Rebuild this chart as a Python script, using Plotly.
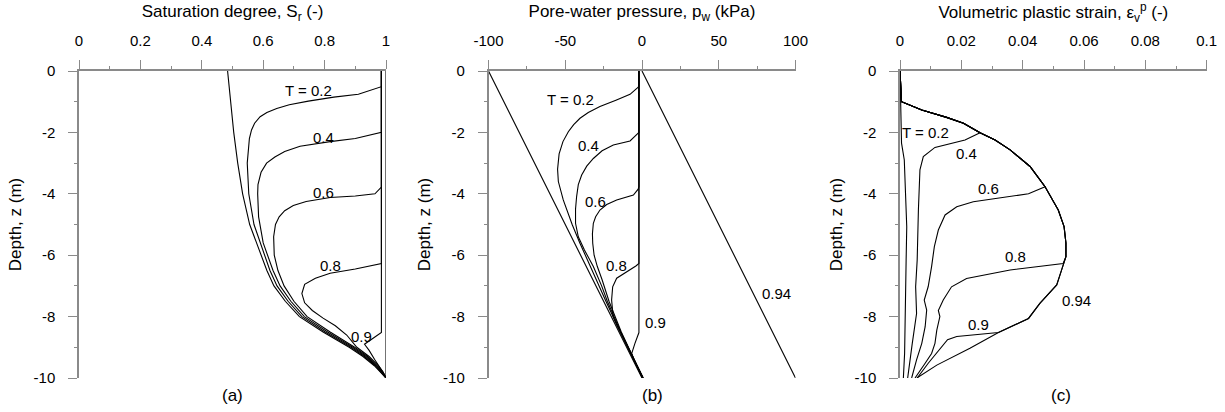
import plotly.graph_objects as go

# ---------------- tick labels ----------------
DEPTH_TICKS = [0, -2, -4, -6, -8, -10]
DEPTH_TICK_TEXT = ["0", "-2", "-4", "-6", "-8", "-10"]
SR_TICKS = [0, 0.2, 0.4, 0.6, 0.8, 1]
SR_TICK_TEXT = ["0", "0.2", "0.4", "0.6", "0.8", "1"]
PW_TICKS = [-100, -50, 0, 50, 100]
PW_TICK_TEXT = ["-100", "-50", "0", "50", "100"]
EPS_TICKS = [0, 0.02, 0.04, 0.06, 0.08, 0.1]
EPS_TICK_TEXT = ["0", "0.02", "0.04", "0.06", "0.08", "0.1"]

# ---------------- (a) saturation degree profiles ----------------
sr_init_z = [0, -1, -2, -3, -4, -5, -6, -6.5, -7, -7.5, -8, -8.5, -9, -9.3, -9.6, -9.8, -10]
sr_init = [0.484, 0.494, 0.504, 0.517, 0.533, 0.556, 0.592, 0.612, 0.635, 0.672, 0.718, 0.795,
           0.88, 0.925, 0.962, 0.982, 1.0]

sr_t02_z = [0, -0.51, -0.76, -0.85, -0.98, -1.1, -1.22, -1.35, -1.49, -1.7, -1.92, -2.2, -3.0,
            -4.0, -5.0, -6.0, -6.5, -7.0, -7.5, -8.0, -8.5, -9.0, -9.3, -9.6, -9.8, -10]
sr_t02 = [0.985, 0.985, 0.91, 0.83, 0.747, 0.685, 0.644, 0.612, 0.59, 0.572, 0.562, 0.555, 0.548,
          0.553, 0.57, 0.603, 0.622, 0.645, 0.681, 0.726, 0.802, 0.886, 0.93, 0.965, 0.984, 1.0]

sr_t04_z = [0, -2.0, -2.2, -2.3, -2.45, -2.62, -2.8, -3.0, -3.3, -3.7, -4.0, -4.75, -5.6, -6.0,
            -6.5, -7.0, -7.5, -8.0, -8.5, -9.0, -9.3, -9.6, -9.8, -10]
sr_t04 = [0.985, 0.985, 0.90, 0.818, 0.72, 0.67, 0.638, 0.611, 0.593, 0.583, 0.582, 0.585, 0.60,
          0.615, 0.632, 0.655, 0.69, 0.734, 0.81, 0.892, 0.935, 0.968, 0.986, 1.0]

sr_t06_z = [0, -3.78, -4.0, -4.07, -4.12, -4.25, -4.38, -4.55, -4.75, -5.0, -5.4, -6.0, -6.5,
            -7.0, -7.5, -8.0, -8.5, -9.0, -9.3, -9.6, -9.8, -10]
sr_t06 = [0.985, 0.985, 0.964, 0.90, 0.818, 0.74, 0.698, 0.67, 0.652, 0.64, 0.634, 0.636, 0.648,
          0.668, 0.70, 0.743, 0.818, 0.898, 0.94, 0.971, 0.988, 1.0]

sr_t08_z = [0, -6.27, -6.45, -6.59, -6.75, -6.95, -7.25, -7.55, -7.8, -8.05, -8.3, -8.6, -9.0,
            -9.3, -9.6, -9.8, -10]
sr_t08 = [0.985, 0.985, 0.90, 0.818, 0.77, 0.735, 0.726, 0.735, 0.76, 0.795, 0.835, 0.872, 0.905,
          0.945, 0.975, 0.99, 1.0]

sr_t09_z = [0, -8.52, -8.9, -9.1, -9.4, -9.65, -9.85, -10]
sr_t09 = [0.985, 0.985, 0.93, 0.945, 0.963, 0.98, 0.993, 1.0]

sr_t094_z = [0, -10]
sr_t094 = [1.0, 1.0]

# ---------------- (b) pore-water pressure profiles ----------------
pw_init_z = [0, -10]
pw_init = [-100, 0]

pw_t02_z = [0, -0.5, -0.55, -0.76, -0.95, -1.16, -1.35, -1.54, -1.75, -1.98, -2.3, -2.7, -3.2,
            -3.6, -4.2, -5.0, -5.6, -6.4, -7.5, -8.5, -9.3, -10]
pw_t02 = [-2, -2, -3, -7.8, -17, -27.4, -35, -40.4, -44.5, -48, -51.5, -54, -55, -54.5, -51.3,
          -45.5, -40.5, -33.4, -23.5, -14.2, -6.5, 0.3]

pw_t04_z = [0, -2.0, -2.05, -2.28, -2.41, -2.6, -2.85, -3.1, -3.39, -3.7, -4.09, -4.5, -4.96,
            -5.4, -5.83, -6.37, -7.0, -7.5, -8.5, -9.3, -10]
pw_t04 = [-2, -2, -3, -7.8, -18.7, -26, -31.7, -36, -39.3, -41.5, -42.6, -43.3, -43.3, -41.5,
          -37.5, -31.7, -26.3, -22.6, -13.8, -6.3, 0.5]

pw_t06_z = [0, -3.77, -3.85, -4.04, -4.2, -4.35, -4.53, -4.75, -4.96, -5.3, -5.61, -6.0, -6.37,
            -6.8, -7.5, -8.5, -9.3, -10]
pw_t06 = [-2, -2, -2.5, -5.6, -16.5, -23, -27.4, -30.2, -31.7, -32.3, -32.1, -31.2, -29.1, -26,
          -21.5, -13.5, -6, 0.6]

pw_t08_z = [0, -6.27, -6.35, -6.54, -6.75, -7.03, -7.46, -8.0, -8.3, -8.6, -9.3, -10]
pw_t08 = [-2, -2, -4, -10, -16.5, -19.1, -19.8, -18.8, -16.2, -13, -6, 0.8]

pw_t09_z = [0, -8.52, -8.87, -9.2, -9.4, -10]
pw_t09 = [-2, -2, -4.6, -6.7, -5.2, 0.8]

pw_t094_z = [0, -10]
pw_t094 = [0, 100]

# ---------------- (c) volumetric plastic strain profiles ----------------
ev_t02_z = [0, -1.0, -2.35, -2.9, -3.98, -5.07, -6.16, -7.25, -8.2, -9.2, -10]
ev_t02 = [0, 0.0003, 0.0005, 0.0014, 0.0019, 0.0022, 0.002, 0.0019, 0.0018, 0.0015, 0.0011]

ev_t04_z = [0, -0.5, -1.0, -1.27, -1.51, -1.7, -2.01, -2.25, -2.49, -2.79, -3.22, -4.53, -6.16,
            -7.03, -7.9, -8.87, -10]
ev_t04 = [0, 0.0003, 0.0005, 0.0071, 0.0152, 0.0207, 0.0261, 0.0212, 0.0114, 0.0076, 0.0065,
          0.006, 0.0056, 0.0051, 0.0054, 0.004, 0.0025]

ev_t06_z = [0, -0.5, -1.0, -1.27, -1.51, -1.7, -2.01, -2.25, -2.57, -3.11, -3.77, -4.0, -4.26,
            -4.42, -4.69, -5.18, -5.72, -6.37, -7.02, -7.46, -7.79, -8.33, -8.87, -9.41, -10]
ev_t06 = [0, 0.0003, 0.0005, 0.0071, 0.0152, 0.0207, 0.0261, 0.031, 0.0359, 0.0424, 0.0473,
          0.0419, 0.0239, 0.0185, 0.0147, 0.0125, 0.0112, 0.0103, 0.0092, 0.0079, 0.0087, 0.0082,
          0.0071, 0.0054, 0.0038]

ev_t08_z = [0, -0.5, -1.0, -1.27, -1.51, -1.7, -2.01, -2.25, -2.57, -3.11, -3.77, -4.53, -5.07,
            -5.6, -6.05, -6.27, -6.48, -6.76, -7.03, -7.46, -7.8, -8.0, -8.44, -8.87, -9.2,
            -9.52, -10]
ev_t08 = [0, 0.0003, 0.0005, 0.0071, 0.0152, 0.0207, 0.0261, 0.031, 0.0359, 0.0424, 0.0473,
          0.0516, 0.0535, 0.0541, 0.0541, 0.0532, 0.0359, 0.0217, 0.0168, 0.0141, 0.0125, 0.013,
          0.012, 0.0114, 0.0103, 0.0082, 0.0049]

ev_t09_z = [0, -0.5, -1.0, -1.27, -1.51, -1.7, -2.01, -2.25, -2.57, -3.11, -3.77, -4.53, -5.07,
            -5.6, -6.05, -6.48, -6.97, -7.57, -8.06, -8.52, -8.65, -8.75, -9.1, -9.52, -10]
ev_t09 = [0, 0.0003, 0.0005, 0.0071, 0.0152, 0.0207, 0.0261, 0.031, 0.0359, 0.0424, 0.0473,
          0.0516, 0.0535, 0.0541, 0.0541, 0.0527, 0.0511, 0.0456, 0.0419, 0.0321, 0.0185, 0.0155,
          0.0125, 0.0092, 0.0056]

ev_t094_z = [0, -0.5, -1.0, -1.27, -1.51, -1.7, -2.01, -2.25, -2.57, -3.11, -3.77, -4.53, -5.07,
             -5.6, -6.05, -6.48, -6.97, -7.57, -8.06, -8.52, -9.03, -9.58, -10]
ev_t094 = [0, 0.0003, 0.0005, 0.0071, 0.0152, 0.0207, 0.0261, 0.031, 0.0359, 0.0424, 0.0473,
           0.0516, 0.0535, 0.0541, 0.0541, 0.0527, 0.0511, 0.0456, 0.0419, 0.0321, 0.0228, 0.012,
           0.0055]

# ---------------- curve labels (text, x, z) ----------------
sr_labels = [("T = 0.2", 0.747, -0.62), ("0.4", 0.796, -2.16), ("0.6", 0.796, -3.96),
             ("0.8", 0.818, -6.32), ("0.9", 0.921, -8.65), ("0.94", 1.046, -5.07)]
pw_labels = [("T = 0.2", -46.9, -0.94), ("0.4", -35.0, -2.44), ("0.6", -30.6, -4.26),
             ("0.8", -16.9, -6.32), ("0.9", 9.1, -8.2), ("0.94", 87.7, -7.24)]
ev_labels = [("T = 0.2", 0.0082, -2.01), ("0.4", 0.0217, -2.7), ("0.6", 0.029, -3.82),
             ("0.8", 0.0375, -6.03), ("0.9", 0.0255, -8.27), ("0.94", 0.0576, -7.48)]

FONT = "Liberation Sans, Arial, sans-serif"
AXIS_GREY = "#8a8a8a"
W, H = 1225, 412

fig = go.Figure()

panels = [
    ("x", "y", [(sr_init, sr_init_z), (sr_t02, sr_t02_z), (sr_t04, sr_t04_z), (sr_t06, sr_t06_z),
                (sr_t08, sr_t08_z), (sr_t09, sr_t09_z), (sr_t094, sr_t094_z)], sr_labels),
    ("x2", "y2", [(pw_init, pw_init_z), (pw_t02, pw_t02_z), (pw_t04, pw_t04_z), (pw_t06, pw_t06_z),
                  (pw_t08, pw_t08_z), (pw_t09, pw_t09_z), (pw_t094, pw_t094_z)], pw_labels),
    ("x3", "y3", [(ev_t02, ev_t02_z), (ev_t04, ev_t04_z), (ev_t06, ev_t06_z),
                  (ev_t08, ev_t08_z), (ev_t09, ev_t09_z), (ev_t094, ev_t094_z)], ev_labels),
]

for xa, ya, curves, labels in panels:
    for xs, zs in curves:
        fig.add_trace(go.Scatter(x=xs, y=zs, xaxis=xa, yaxis=ya, mode="lines",
                                 line=dict(color="black", width=1.1), showlegend=False,
                                 hoverinfo="skip"))
    for text, lx, lz in labels:
        fig.add_annotation(text=text, x=lx, y=lz, xref=xa, yref=ya, showarrow=False,
                           xanchor="center", yanchor="middle",
                           font=dict(family=FONT, size=15, color="black"))

# plot-area positions in pixels
x_domains = [(79, 386), (488.5, 795.5), (900, 1206.7)]
y_top, y_bottom = 71, 378
y_dom = [1 - y_bottom / H, 1 - y_top / H]

x_specs = [
    ("Saturation degree, S<sub>r</sub> (-)", [0, 1], SR_TICKS, SR_TICK_TEXT, 0.1),
    ("Pore-water pressure, p<sub>w</sub> (kPa)", [-100, 100], PW_TICKS, PW_TICK_TEXT, 25),
    ("Volumetric plastic strain, ε<sub>v</sub><sup>p</sup> (-)", [0, 0.1], EPS_TICKS, EPS_TICK_TEXT, 0.01),
]

layout = dict(
    width=W, height=H, margin=dict(l=0, r=0, t=0, b=0, autoexpand=False),
    paper_bgcolor="white", plot_bgcolor="white", showlegend=False,
    font=dict(family=FONT, size=15, color="black"),
)

for i, ((x0, x1), (title, rng, tv, tt, minor_dt)) in enumerate(zip(x_domains, x_specs)):
    sfx = "" if i == 0 else str(i + 1)
    layout["xaxis" + sfx] = dict(
        domain=[x0 / W, x1 / W], range=rng, side="top", anchor="y" + sfx,
        tickmode="array", tickvals=tv, ticktext=tt,
        ticks="outside", ticklen=9, tickwidth=1.3, tickcolor=AXIS_GREY,
        minor=dict(tickmode="linear", tick0=rng[0], dtick=minor_dt, ticks="outside",
                   ticklen=3, tickwidth=1.3, tickcolor=AXIS_GREY),
        showline=True, linecolor=AXIS_GREY, linewidth=1.5, mirror=False,
        showgrid=False, zeroline=False, ticklabelstandoff=8, automargin=False,
        tickfont=dict(family=FONT, size=15, color="black"),
        title=dict(text=title, font=dict(family=FONT, size=17, color="black"), standoff=10),
        fixedrange=True,
    )
    layout["yaxis" + sfx] = dict(
        domain=y_dom, range=[-10, 0], anchor="x" + sfx,
        tickmode="array", tickvals=DEPTH_TICKS, ticktext=DEPTH_TICK_TEXT,
        ticks="outside", ticklen=9, tickwidth=1.3, tickcolor=AXIS_GREY,
        minor=dict(tickmode="linear", tick0=0, dtick=1, ticks="outside",
                   ticklen=3, tickwidth=1.3, tickcolor=AXIS_GREY),
        showline=True, linecolor=AXIS_GREY, linewidth=1.5, mirror=False,
        showgrid=False, zeroline=False, ticklabelstandoff=10, automargin=False,
        tickfont=dict(family=FONT, size=15, color="black"),
        title=dict(text="Depth, z (m)", font=dict(family=FONT, size=17, color="black"), standoff=8),
        fixedrange=True,
    )

fig.update_layout(**layout)

# panel captions below each plot
for cap, cx in [("(a)", 232), ("(b)", 652), ("(c)", 1061)]:
    fig.add_annotation(text=cap, x=cx / W, y=1 - 395 / H, xref="paper", yref="paper",
                       xanchor="center", yanchor="middle", showarrow=False,
                       font=dict(family=FONT, size=17, color="black"))

fig.write_html("out.html")
